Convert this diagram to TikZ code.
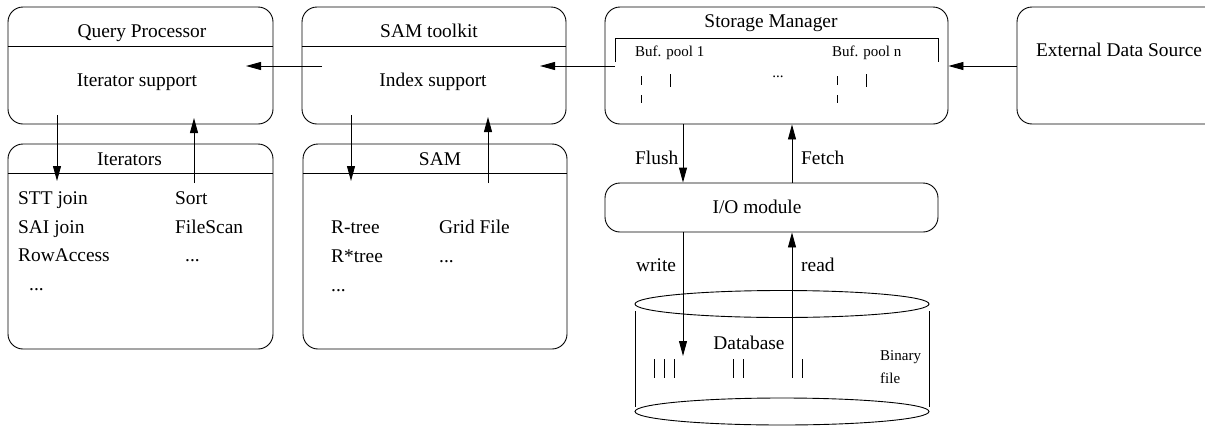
\documentclass[tikz,border=0pt]{standalone}
\usepackage{fontspec}
\setmainfont{Liberation Serif}
\usetikzlibrary{positioning, arrows.meta}

\begin{document}
\begin{tikzpicture}[
    x=1pt, y=-1pt,
    module box/.style={draw, rounded corners=15pt, line width=0.9pt, inner sep=0pt, minimum width=#1},
    lbl/.style={font=\fontsize{19.4}{23}\selectfont, inner sep=0pt, anchor=base},
    item/.style={lbl, anchor=base west},
    small item/.style={item, font=\fontsize{15}{18}\selectfont},
    flow/.style={-{Triangle[length=15pt, width=8pt]}, line width=0.9pt},
    thin line/.style={line width=0.9pt}
]
\useasboundingbox (0,0) rectangle (1205,426);

% ------------------------------------------------------------------
% 1. Modules (upper row)
% ------------------------------------------------------------------
\node[module box=265pt, minimum height=117pt] (queryproc) at (140.5,65.5) {};
\node[module box=264pt, minimum height=117pt] (samtoolkit) at (434,65.5) {};
\node[module box=343pt, minimum height=117pt] (storage) at (776.5,65.5) {};
\node[module box=204pt, minimum height=117pt] (extsrc) at (1119,65.5) {};

\draw[thin line] (queryproc.west |- 0,46) -- (queryproc.east |- 0,46);
\draw[thin line] (samtoolkit.west |- 0,46) -- (samtoolkit.east |- 0,46);

\node[lbl] (qptitle) at (142,37) {Query Processor};
\node[lbl] (itsupport) at (137,86) {Iterator support};
\node[lbl] (sktitle) at (429,37) {SAM toolkit};
\node[lbl] (idxsupport) at (433,86) {Index support};
\node[lbl] (smtitle) at (771,27) {Storage Manager};
\node[lbl] (extname) at (1119,56) {External Data Source};

% buffer pools
\draw[thin line] (615,62) -- (615,38) -- (938,38) -- (938,62);
\node[small item] (pool1) at (635,56) {Buf. pool 1};
\node[small item] (pooln) at (832,56) {Buf. pool n};
\node[small item, anchor=base] (pooldots) at (778,77) {...};
\foreach \x in {641,837} {
    \draw[thin line] (\x,76) -- (\x,85);
    \draw[thin line] (\x,95) -- (\x,103);
}
\foreach \x in {670,866}
    \draw[thin line] (\x,74) -- (\x,87);

% ------------------------------------------------------------------
% 2. Modules (lower row)
% ------------------------------------------------------------------
\node[module box=265pt, minimum height=205pt] (iterators) at (140.5,246.5) {};
\node[module box=264pt, minimum height=205pt] (sam) at (435,246.5) {};
\node[module box=333pt, minimum height=49pt] (iomod) at (771.5,207.5) {};

\draw[thin line] (iterators.west |- 0,173) -- (iterators.east |- 0,173);
\draw[thin line] (sam.west |- 0,173) -- (sam.east |- 0,173);

\node[lbl] (ittitle) at (129.5,165) {Iterators};
\node[item] (stt) at (18,204) {STT join};
\node[item] (sai) at (18,233) {SAI join};
\node[item] (rowacc) at (18,261) {RowAccess};
\node[item] (itdots) at (29,290) {...};
\node[item] (sort) at (175,204) {Sort};
\node[item] (filescan) at (175,233) {FileScan};
\node[item] (itdots2) at (185,261) {...};

\node[lbl] (samtitle) at (440,165) {SAM};
\node[item] (rtree) at (331,233) {R-tree};
\node[item] (rstar) at (331,262) {R*tree};
\node[item] (samdots) at (331,291) {...};
\node[item] (grid) at (439,233) {Grid File};
\node[item] (samdots2) at (439,262) {...};

\node[lbl] (ioname) at (757,213) {I/O module};

% ------------------------------------------------------------------
% 3. Database (cylinder)
% ------------------------------------------------------------------
\draw[thin line] (782,304) ellipse [x radius=147pt, y radius=13.5pt];
\draw[thin line] (782,411.5) ellipse [x radius=147pt, y radius=13.5pt];
\draw[thin line] (635,311) -- (635,407) (929,311) -- (929,407);
\foreach \x in {654,664,674,733,743,792,802}
    \draw[thin line] (\x,359) -- (\x,378);
\node[lbl] (dbname) at (749,349) {Database};
\node[small item] (binary) at (880,360) {Binary};
\node[small item] (binfile) at (880,383) {file};

% ------------------------------------------------------------------
% 4. Connectors
% ------------------------------------------------------------------
\coordinate (qp out) at (57,115);   \coordinate (it in) at (57,181);
\coordinate (it out) at (194,183);  \coordinate (qp in) at (194,118);
\coordinate (sk out) at (351,115);  \coordinate (sam in) at (351,181);
\coordinate (sam out) at (488,183); \coordinate (sk in) at (488,117);
\coordinate (sm left) at (615,66);  \coordinate (sk right) at (540,66);
\coordinate (sk left) at (322,66);  \coordinate (qp right) at (246,66);
\coordinate (col a) at (683,0);     \coordinate (col b) at (792,0);
\coordinate (db in) at (683,356);   \coordinate (db out) at (792,360);

\draw[flow] (qp out) -- (it in);
\draw[flow] (it out) -- (qp in);
\draw[flow] (sk out) -- (sam in);
\draw[flow] (sam out) -- (sk in);
\draw[flow] (extsrc.west |- 0,66) -- (storage.east |- 0,66);
\draw[flow] (sm left) -- (sk right);
\draw[flow] (sk left) -- (qp right);
\draw[flow] (storage.south -| col a) -- (iomod.north -| col a);
\draw[flow] (iomod.north -| col b) -- (storage.south -| col b);
\draw[flow] (iomod.south -| col a) -- (db in);
\draw[flow] (db out) -- (iomod.south -| col b);

\node[item] (flush) at (635,164) {Flush};
\node[item] (fetch) at (801,164) {Fetch};
\node[item] (write) at (636,271) {write};
\node[item] (read) at (801,271) {read};

\end{tikzpicture}
\end{document}
